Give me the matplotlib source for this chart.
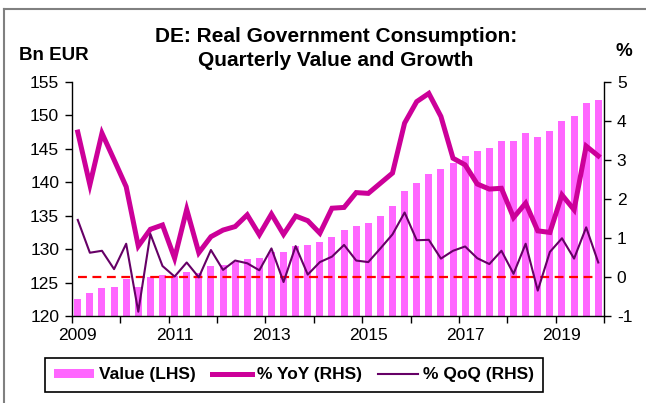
import matplotlib
matplotlib.use('Agg')
import matplotlib.pyplot as plt
from matplotlib.lines import Line2D
import numpy as np

plt.rcParams['font.family'] = ['Liberation Sans', 'DejaVu Sans']
plt.rcParams['axes.unicode_minus'] = False

# quarterly data 2009Q1 - 2019Q4
start_year = 2009
value_bn = [122.6, 123.4, 124.2, 124.4, 125.5, 124.3, 125.8, 126.1, 126.0, 126.5,
            126.4, 127.4, 127.6, 128.0, 128.5, 128.7, 129.6, 129.5, 130.5, 130.6,
            131.1, 131.8, 132.9, 133.5, 133.9, 134.9, 136.4, 138.6, 139.9, 141.2,
            142.0, 142.8, 143.9, 144.7, 145.1, 146.1, 146.2, 147.4, 146.8, 147.7,
            149.2, 149.9, 151.8, 152.3]
yoy_pct = [3.71, 2.36, 3.68, 3.00, 2.31, 0.79, 1.22, 1.33, 0.48, 1.73,
           0.62, 1.03, 1.20, 1.29, 1.59, 1.08, 1.61, 1.09, 1.56, 1.44,
           1.12, 1.76, 1.78, 2.16, 2.14, 2.40, 2.66, 3.94, 4.49, 4.70,
           4.11, 3.04, 2.87, 2.38, 2.25, 2.27, 1.52, 1.89, 1.18, 1.14,
           2.10, 1.72, 3.35, 3.10]
qoq_pct = [1.46, 0.62, 0.67, 0.20, 0.85, -0.89, 1.10, 0.28, 0.01, 0.37,
           -0.01, 0.69, 0.18, 0.42, 0.35, 0.17, 0.73, -0.13, 0.79, 0.06,
           0.38, 0.52, 0.82, 0.42, 0.38, 0.73, 1.09, 1.65, 0.94, 0.95,
           0.47, 0.67, 0.78, 0.48, 0.33, 0.67, 0.08, 0.85, -0.35, 0.64,
           0.99, 0.47, 1.27, 0.37]
year_labels = [2009, 2011, 2013, 2015, 2017, 2019]

bar_color = '#FF66FF'
yoy_color = '#CC0099'
qoq_color = '#660066'

n = len(value_bn)
x = start_year + (np.arange(n) + 0.5) / 4.0

fig = plt.figure(figsize=(6.46, 4.03), dpi=100)
ax = fig.add_axes([0.111, 0.2159, 0.8245, 0.5814])
ax2 = ax.twinx()

ax.bar(x, value_bn, width=0.145, color=bar_color, label='Value (LHS)', zorder=2)
ax2.plot(x, np.zeros(n), color='#FF0000', lw=1.6, ls=(0, (4, 2.5)), zorder=3)
ax2.plot(x, yoy_pct, color=yoy_color, lw=3.6, label='% YoY (RHS)', zorder=4,
         solid_joinstyle='miter')
ax2.plot(x, qoq_pct, color=qoq_color, lw=1.5, label='% QoQ (RHS)', zorder=5)

ax.set_xlim(start_year, start_year + n / 4)
ax.set_ylim(120, 155)
ax2.set_ylim(-1, 5)
ax.set_yticks(np.arange(120, 156, 5))
ax2.set_yticks(np.arange(-1, 6, 1))

# year ticks without labels, labels on first quarter of every second year
ax.set_xticks(np.arange(start_year, start_year + n / 4 + 1))
ax.set_xticklabels([])
ax.set_xticks([y + 0.125 for y in year_labels], minor=True)
ax.set_xticklabels([str(y) for y in year_labels], minor=True)
ax.tick_params(axis='x', which='minor', length=0, pad=9, labelsize=12.5)
ax.tick_params(axis='x', which='major', length=5, width=1, direction='out')
ax.tick_params(axis='y', length=5, width=1, pad=4, labelsize=12.5)
ax2.tick_params(axis='y', length=5, width=1, pad=4, labelsize=12.5)

for a in (ax, ax2):
    a.spines['top'].set_visible(False)
    for s in ('left', 'right', 'bottom'):
        a.spines[s].set_linewidth(1)
ax.spines['right'].set_visible(False)
ax2.spines['left'].set_visible(False)
ax2.spines['bottom'].set_visible(False)

fig.text(0.520, 0.909, 'DE: Real Government Consumption:', ha='center', va='center',
         fontsize=15, fontweight='bold')
fig.text(0.520, 0.851, 'Quarterly Value and Growth', ha='center', va='center',
         fontsize=15, fontweight='bold')
fig.text(0.084, 0.862, 'Bn EUR', ha='center', va='center', fontsize=13.5, fontweight='bold')
fig.text(0.966, 0.872, '%', ha='center', va='center', fontsize=13.5, fontweight='bold')

handles = ax.get_legend_handles_labels()[0] + ax2.get_legend_handles_labels()[0]
labels = ['Value (LHS)', '% YoY (RHS)', '% QoQ (RHS)']
leg = fig.legend(handles, labels, loc='center', bbox_to_anchor=(294 / 646, 1 - 375 / 403),
                 ncol=3, frameon=True, fancybox=False, framealpha=1, edgecolor='black',
                 prop={'weight': 'bold', 'size': 12.5}, handlelength=2.3, handleheight=0.45,
                 handletextpad=0.3, columnspacing=0.9, borderpad=0.55, borderaxespad=0)
leg.get_frame().set_linewidth(1.2)

# outer frame (left and top edges visible)
fig.add_artist(Line2D([3.5 / 646, 3.5 / 646], [0, 1 - 9 / 403], transform=fig.transFigure,
                      color='#808080', lw=1.5))
fig.add_artist(Line2D([3.5 / 646, 1], [1 - 9 / 403, 1 - 9 / 403], transform=fig.transFigure,
                      color='#808080', lw=1.5))

fig.savefig('out.png', dpi=100)
